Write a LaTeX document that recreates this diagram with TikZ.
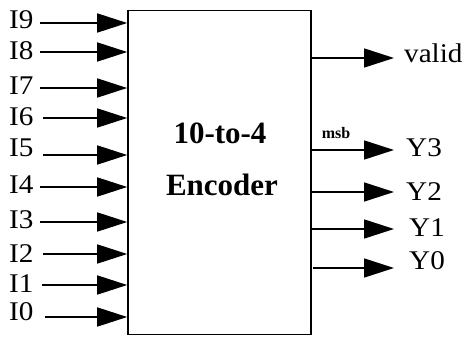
\documentclass[tikz,border=0pt]{standalone}
\usepackage{fontspec}
\setmainfont{Liberation Serif}
\newfontfamily\lblfont[FakeStretch=1.08]{Liberation Serif}
\usetikzlibrary{arrows.meta}
\tikzset{
  x=1pt, y=-1pt,
  sig/.style={line width=1.6pt, -{Triangle[length=30pt,width=19pt]}},
  inlbl/.style={font=\lblfont\fontsize{27}{27}\selectfont, inner sep=0pt, anchor=west},
  outlbl/.style={font=\lblfont\fontsize{27}{27}\selectfont, inner sep=0pt, anchor=west},
  encbox/.style={draw, line width=1.6pt, minimum width=183pt, minimum height=324pt, inner sep=0pt},
  title/.style={font=\bfseries\fontsize{31}{31}\selectfont, inner sep=0pt},
}
\begin{document}
\begin{tikzpicture}
\useasboundingbox (0,0) rectangle (465,339);
\node[encbox] (box) at (219.5,172.5) {};
\node[title] (t1) at (220,133) {10-to-4};
\node[title] (t2) at (222,185) {Encoder};
% inputs
\foreach \n/\ly/\ay/\sx in {9/19.5/23/40, 8/51/52/40, 7/86/88/40, 6/117/118/43, 5/148/155/43, 4/185/187/40, 3/220/222/40, 2/254/254/43, 1/284/285/42, 0/312/317/45}{
  \node[inlbl] (l\n) at (9,\ly) {I\n};
  \coordinate (s\n) at (\sx,\ay);
  \draw[sig] (s\n) -- (s\n -| box.west);
}
% outputs
\node[outlbl] (valid) at (404,53) {valid};
\node[outlbl] (y3) at (406,148) {Y3};
\node[outlbl] (y2) at (406,192) {Y2};
\node[outlbl] (y1) at (409,228) {Y1};
\node[outlbl] (y0) at (409,261) {Y0};
\coordinate (ev) at (394,58);
\coordinate (e3) at (394,150);
\coordinate (e2) at (394,192);
\coordinate (e1) at (394,229);
\coordinate (e0) at (394,268);
\draw[sig] (ev -| box.east) -- (ev);
\draw[sig] (e3 -| box.east) -- (e3);
\draw[sig] (e2 -| box.east) -- (e2);
\draw[sig] (e1 -| box.east) -- (e1);
\draw[sig] ([xshift=1pt]e0 -| box.east) -- (e0);
\node[font=\bfseries\fontsize{16}{16}\selectfont, inner sep=0pt] (msb) at (336,133) {msb};
\end{tikzpicture}
\end{document}
